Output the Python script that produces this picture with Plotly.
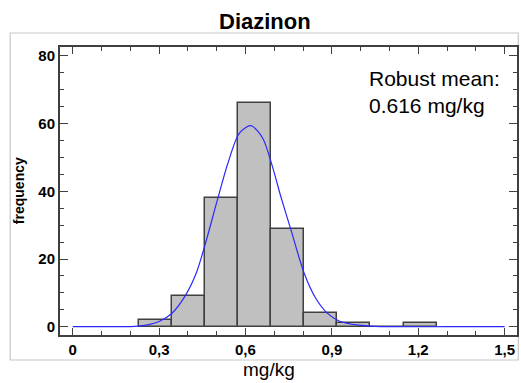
import plotly.graph_objects as go

# ---- data ----
bin_start = 0.229
bin_width = 0.115
counts = [2, 9, 38, 66, 29, 4, 1, 0, 1]

curve_x = [0.0, 0.10, 0.20, 0.229, 0.265, 0.302, 0.344, 0.389, 0.429, 0.461, 0.504, 0.539,
           0.579, 0.619, 0.660, 0.692, 0.723, 0.758, 0.804, 0.844, 0.884, 0.925, 0.994,
           1.05, 1.10, 1.30, 1.50]
curve_y = [0.0, 0.0, 0.05, 0.2, 0.6, 1.6, 3.9, 8.9, 15.8, 24.6, 37.9, 48.3,
           57.2, 59.4, 55.7, 47.8, 38.4, 28.6, 15.8, 8.4, 4.0, 1.7, 0.45,
           0.1, 0.0, 0.0, 0.0]

title_text = "Diazinon"
x_title = "mg/kg"
y_title = "frequency"
note_lines = ["Robust mean:", "0.616 mg/kg"]

bin_centers = [bin_start + bin_width * (i + 0.5) for i in range(len(counts))]

fig = go.Figure()
fig.add_trace(go.Bar(
    x=bin_centers, y=counts, width=[bin_width] * len(counts),
    marker=dict(color="#c0c0c0", line=dict(color="#404040", width=1.5)),
    showlegend=False, hoverinfo="skip",
))
fig.add_trace(go.Scatter(
    x=curve_x, y=curve_y, mode="lines",
    line=dict(color="#2a2aff", width=1.2, shape="spline", smoothing=0.8),
    showlegend=False, hoverinfo="skip",
))

axis_common = dict(
    showline=True, linecolor="#404040", linewidth=2, mirror="allticks",
    ticks="inside", tickcolor="#404040", tickwidth=1.3,
    showgrid=False, zeroline=False,
    tickfont=dict(family="Liberation Sans, Arial", size=15, color="black", weight="bold"),
)

fig.update_layout(
    width=521, height=383,
    margin=dict(l=60, r=2, t=47, b=48),
    paper_bgcolor="white", plot_bgcolor="white",
    separators=", ",
    bargap=0,
    xaxis=dict(range=[-0.044, 1.543], tick0=0, dtick=0.3, ticklen=7,
               minor=dict(dtick=0.1, ticks="inside", ticklen=4, tickcolor="#404040", tickwidth=1.2, showgrid=False),
               **axis_common),
    yaxis=dict(range=[-2.45, 82.65], tick0=0, dtick=20, ticklen=8,
               minor=dict(dtick=5, ticks="inside", ticklen=4, tickcolor="#404040", tickwidth=1.2, showgrid=False),
               **axis_common),
    font=dict(family="Liberation Sans, Arial", color="black"),
)

# outer light frame
fig.add_shape(type="rect", xref="paper", yref="paper",
              x0=-0.109, x1=1.0028, y0=-0.0868, y1=1.0486,
              line=dict(color="#c8c8c8", width=1.2), fillcolor="rgba(0,0,0,0)", layer="below")

fig.add_annotation(text=f"<b>{title_text}</b>", xref="paper", yref="paper",
                   x=(266 - 60) / 458.7, y=(335 - 21) / 288, xanchor="center", yanchor="middle",
                   showarrow=False, font=dict(size=22, color="black"))
fig.add_annotation(text=x_title, xref="paper", yref="paper",
                   x=(270 - 60) / 458.7, y=(335 - 369) / 288, xanchor="center", yanchor="middle",
                   showarrow=False, font=dict(size=19, color="black"))
fig.add_annotation(text=f"<b>{y_title}</b>", xref="paper", yref="paper", textangle=-90,
                   x=(19 - 60) / 458.7, y=0.5, xanchor="center", yanchor="middle",
                   showarrow=False, font=dict(size=14, color="black"))
fig.add_annotation(text="<br>".join(note_lines), xref="paper", yref="paper",
                   x=(368 - 60) / 458.7, y=(335 - 65) / 288, xanchor="left", yanchor="top",
                   align="left", showarrow=False, font=dict(size=21, color="black"))

fig.write_html("out.html")
